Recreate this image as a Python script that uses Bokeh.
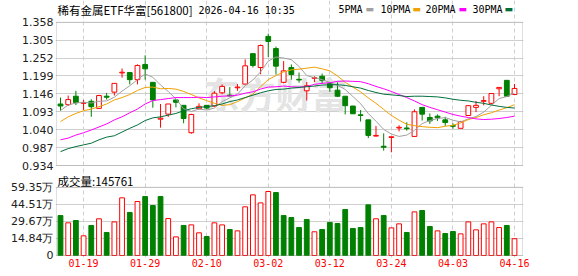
from bokeh.plotting import figure
from bokeh.models import Range1d, FixedTicker, Label, ColumnDataSource, NumeralTickFormatter, BoxAnnotation
from bokeh.layouts import column
from bokeh.embed import file_html
from bokeh.resources import INLINE

# ---------------- data ----------------
dates = ["01-14", "01-15", "01-16", "01-19", "01-20", "01-21", "01-22", "01-23", "01-26", "01-27",
         "01-28", "01-29", "01-30", "02-02", "02-03", "02-04", "02-05", "02-06", "02-09", "02-10",
         "02-11", "02-12", "02-13", "02-24", "02-25", "02-26", "02-27", "03-02", "03-03", "03-04",
         "03-05", "03-06", "03-09", "03-10", "03-11", "03-12", "03-13", "03-16", "03-17", "03-18",
         "03-19", "03-20", "03-23", "03-24", "03-25", "03-26", "03-27", "03-30", "03-31", "04-01",
         "04-02", "04-03", "04-07", "04-08", "04-09", "04-10", "04-13", "04-14", "04-15", "04-16"]

opens = [1.116, 1.114, 1.139, 1.118, 1.124, 1.103, 1.139, 1.151, 1.208, 1.209,
         1.188, 1.233, 1.180, 1.071, 1.086, 1.128, 1.112, 1.031, 1.102, 1.112,
         1.110, 1.149, 1.142, 1.164, 1.175, 1.265, 1.224, 1.316, 1.280, 1.180,
         1.224, 1.189, 1.155, 1.192, 1.198, 1.177, 1.157, 1.139, 1.110, 1.084,
         1.069, 1.021, 0.991, 1.017, 1.045, 1.045, 1.020, 1.106, 1.076, 1.080,
         1.069, 1.052, 1.044, 1.082, 1.106, 1.124, 1.118, 1.161, 1.186, 1.144]
highs = [1.135, 1.141, 1.155, 1.128, 1.130, 1.143, 1.149, 1.177, 1.221, 1.210,
         1.233, 1.260, 1.181, 1.116, 1.116, 1.129, 1.112, 1.087, 1.118, 1.113,
         1.154, 1.174, 1.166, 1.175, 1.248, 1.265, 1.292, 1.324, 1.286, 1.243,
         1.233, 1.209, 1.181, 1.198, 1.206, 1.181, 1.180, 1.139, 1.110, 1.098,
         1.069, 1.051, 1.029, 1.019, 1.053, 1.062, 1.100, 1.106, 1.088, 1.085,
         1.078, 1.059, 1.066, 1.113, 1.125, 1.139, 1.147, 1.165, 1.186, 1.175]
lows = [1.096, 1.110, 1.113, 1.098, 1.078, 1.101, 1.129, 1.141, 1.194, 1.174,
        1.174, 1.188, 1.105, 1.046, 1.078, 1.106, 1.059, 1.028, 1.100, 1.100,
        1.108, 1.145, 1.139, 1.155, 1.174, 1.224, 1.204, 1.255, 1.203, 1.177,
        1.188, 1.179, 1.126, 1.181, 1.177, 1.152, 1.137, 1.085, 1.087, 1.064,
        1.015, 1.020, 0.978, 0.973, 1.035, 1.037, 1.020, 1.067, 1.057, 1.066,
        1.051, 1.043, 1.044, 1.082, 1.092, 1.112, 1.115, 1.139, 1.137, 1.144]
closes = [1.110, 1.129, 1.120, 1.120, 1.108, 1.141, 1.136, 1.177, 1.210, 1.188,
          1.230, 1.220, 1.128, 1.074, 1.116, 1.121, 1.073, 1.085, 1.109, 1.104,
          1.148, 1.168, 1.140, 1.166, 1.229, 1.230, 1.289, 1.301, 1.228, 1.214,
          1.203, 1.187, 1.170, 1.194, 1.186, 1.164, 1.139, 1.111, 1.087, 1.082,
          1.023, 1.023, 0.988, 1.019, 1.047, 1.043, 1.093, 1.086, 1.066, 1.075,
          1.061, 1.050, 1.064, 1.111, 1.112, 1.126, 1.147, 1.165, 1.139, 1.162]

ma5 = [1.097, 1.113, 1.119, 1.121, 1.119, 1.124, 1.125, 1.136, 1.154, 1.170,
       1.188, 1.205, 1.195, 1.172, 1.153, 1.131, 1.102, 1.094, 1.101, 1.098,
       1.104, 1.123, 1.134, 1.145, 1.170, 1.187, 1.211, 1.243, 1.255, 1.252,
       1.247, 1.227, 1.200, 1.194, 1.188, 1.180, 1.171, 1.159, 1.138, 1.117,
       1.088, 1.065, 1.041, 1.027, 1.020, 1.024, 1.038, 1.058, 1.067, 1.073,
       1.076, 1.068, 1.063, 1.072, 1.079, 1.092, 1.112, 1.132, 1.138, 1.148]
ma10 = [1.064, 1.078, 1.088, 1.096, 1.101, 1.108, 1.116, 1.128, 1.135, 1.144,
        1.156, 1.165, 1.166, 1.161, 1.162, 1.160, 1.153, 1.144, 1.134, 1.126,
        1.118, 1.112, 1.114, 1.123, 1.134, 1.145, 1.167, 1.188, 1.200, 1.211,
        1.217, 1.219, 1.222, 1.225, 1.220, 1.214, 1.199, 1.180, 1.166, 1.152,
        1.134, 1.118, 1.100, 1.082, 1.068, 1.056, 1.052, 1.049, 1.047, 1.046,
        1.050, 1.053, 1.060, 1.070, 1.076, 1.084, 1.090, 1.098, 1.105, 1.114]
ma20 = [1.010, 1.015, 1.024, 1.031, 1.039, 1.048, 1.057, 1.069, 1.078, 1.090,
        1.101, 1.116, 1.126, 1.129, 1.132, 1.135, 1.135, 1.135, 1.136, 1.135,
        1.137, 1.139, 1.140, 1.142, 1.148, 1.152, 1.160, 1.166, 1.167, 1.169,
        1.167, 1.166, 1.168, 1.174, 1.177, 1.179, 1.183, 1.184, 1.183, 1.182,
        1.176, 1.168, 1.161, 1.153, 1.144, 1.135, 1.125, 1.114, 1.106, 1.099,
        1.092, 1.085, 1.080, 1.076, 1.072, 1.070, 1.071, 1.073, 1.076, 1.080]
ma30 = [0.975, 0.984, 0.990, 0.995, 1.000, 1.010, 1.018, 1.022, 1.033, 1.044,
        1.054, 1.067, 1.075, 1.078, 1.083, 1.088, 1.096, 1.102, 1.106, 1.108,
        1.111, 1.116, 1.123, 1.128, 1.135, 1.142, 1.149, 1.155, 1.159, 1.160,
        1.163, 1.165, 1.167, 1.169, 1.172, 1.173, 1.173, 1.171, 1.167, 1.163,
        1.156, 1.150, 1.145, 1.143, 1.141, 1.138, 1.139, 1.139, 1.138, 1.137,
        1.134, 1.130, 1.127, 1.125, 1.121, 1.118, 1.113, 1.109, 1.106, 1.104]

volumes = [34.7, 28.4, 30.4, 17.1, 26.1, 31.9, 20.0, 29.2, 50.1, 37.4,
           46.9, 51.2, 43.4, 51.2, 32.1, 16.2, 26.1, 26.6, 19.7, 16.5,
           28.4, 26.6, 22.6, 21.4, 42.3, 52.7, 45.7, 55.6, 54.7, 34.7,
           33.0, 24.3, 31.3, 20.6, 22.6, 28.7, 27.8, 40.0, 23.5, 24.3,
           44.0, 31.9, 34.7, 24.0, 27.5, 20.0, 37.9, 39.1, 25.2, 21.4,
           19.1, 20.8, 18.8, 29.2, 22.3, 27.5, 29.2, 24.3, 26.1, 14.58]
vol_up = [0, 1, 0, 1, 0, 1, 0, 1, 1, 0, 1, 0, 0, 0, 1, 1, 0, 1, 1, 0,
          1, 1, 0, 1, 1, 1, 1, 1, 0, 0, 0, 0, 0, 1, 0, 0, 0, 0, 0, 0,
          0, 1, 0, 1, 1, 0, 1, 0, 0, 1, 0, 0, 1, 1, 1, 1, 1, 1, 0, 1]

price_ticks = [0.934, 0.987, 1.040, 1.093, 1.146, 1.199, 1.252, 1.305, 1.358]
vol_ticks = [0, 14.84, 29.67, 44.51, 59.35]
vol_tick_labels = ["0", "14.84万", "29.67万", "44.51万", "59.35万"]
date_ticks = ["01-19", "01-29", "02-10", "03-02", "03-12", "03-24", "04-03", "04-16"]

title_name = "稀有金属ETF华富[561800]"
title_time = "2026-04-16 10:35"
legend_names = ["5PMA", "10PMA", "20PMA", "30PMA"]
vol_title = "成交量:145761"
watermark = "东方财富"

# ---------------- styling ----------------
RED = "#ff0000"
GREEN = "#008000"
MA_COLORS = ["#a0a0a0", "#f0a000", "#ff00ff", "#006f3c"]
GRID = "#cfcfcf"
FRAME = "#999999"

x = list(range(1, len(dates) + 1))
tick_x = [dates.index(d) + 1 for d in date_ticks]
up = [c >= o for o, c in zip(opens, closes)]

src = ColumnDataSource(dict(
    x=x, h=highs, l=lows,
    top=[max(o, c) for o, c in zip(opens, closes)],
    bottom=[min(o, c) for o, c in zip(opens, closes)],
    line=[RED if u else GREEN for u in up],
    fill=["white" if u else GREEN for u in up],
))
vsrc = ColumnDataSource(dict(
    x=x, v=volumes,
    line=[RED if u else GREEN for u in vol_up],
    fill=["white" if u else GREEN for u in vol_up],
))

# panel box edges (x in candle index units)
BOX_L, BOX_R = 0.48, 61.04
xr = Range1d(0.35, 61.17)
P_LO, P_HI = price_ticks[0], price_ticks[-1]
V_LO, V_HI = vol_ticks[0], vol_ticks[-1]

p1 = figure(width=578, height=172, x_range=xr, y_range=Range1d(0.91329, 1.4222),
            output_backend="svg", toolbar_location=None, x_axis_location=None,
            min_border_left=55, min_border_right=55, min_border_top=0, min_border_bottom=0)
p2 = figure(width=578, height=104, x_range=xr, y_range=Range1d(-1.74, 72.12),
            output_backend="svg", toolbar_location=None,
            min_border_left=55, min_border_right=55, min_border_top=0, min_border_bottom=19)

for p, lo, hi in ((p1, P_LO, P_HI), (p2, V_LO, V_HI)):
    p.outline_line_color = None
    p.background_fill_color = "white"
    p.border_fill_color = "white"
    p.xgrid.ticker = FixedTicker(ticks=tick_x)
    p.xgrid.grid_line_color = GRID
    p.xgrid.grid_line_dash = "4 3"
    p.xgrid.bounds = (lo, hi)
    p.ygrid.grid_line_color = GRID
    p.ygrid.bounds = (BOX_L, BOX_R)
    ax = p.yaxis[0]
    ax.axis_line_color = None
    ax.major_tick_line_color = None
    ax.minor_tick_line_color = None
    ax.major_tick_out = 0
    ax.major_tick_in = 0
    ax.major_label_standoff = 2
    ax.major_label_text_font = "DejaVu Sans"
    ax.major_label_text_font_size = "11px"
    ax.major_label_text_color = "#202020"
    p.add_layout(BoxAnnotation(left=BOX_L, right=BOX_R, bottom=lo, top=hi,
                               fill_alpha=0, line_color=FRAME, line_width=1))

p1.yaxis[0].ticker = FixedTicker(ticks=price_ticks)
p1.yaxis[0].formatter = NumeralTickFormatter(format="0.000")
p2.yaxis[0].ticker = FixedTicker(ticks=vol_ticks)
p2.yaxis[0].major_label_overrides = {t: s for t, s in zip(vol_ticks, vol_tick_labels)}

bx = p2.xaxis[0]
bx.ticker = FixedTicker(ticks=tick_x)
bx.major_label_overrides = {t: d for t, d in zip(tick_x, date_ticks)}
bx.axis_line_color = None
bx.major_tick_line_color = None
bx.minor_tick_line_color = None
bx.major_tick_out = 0
bx.major_tick_in = 0
bx.major_label_standoff = 1
bx.major_label_text_font = "DejaVu Sans Mono"
bx.major_label_text_font_size = "10px"
bx.major_label_text_color = RED

# watermark
p1.add_layout(Label(x=148, y=80, x_units="screen", y_units="screen", text=watermark,
                    text_font="Noto Sans CJK SC", text_font_size="36px", text_font_style="bold",
                    text_color="#e4e4e4", text_baseline="middle", level="underlay"))

# candles
p1.segment(x0="x", y0="l", x1="x", y1="h", line_color="line", line_width=1, source=src)
p1.vbar(x="x", width=0.62, top="top", bottom="bottom", fill_color="fill",
        line_color="line", line_width=1, source=src)

for ma, col in zip([ma5, ma10, ma20, ma30], MA_COLORS):
    p1.line(x, ma, line_color=col, line_width=1)

# volume
p2.vbar(x="x", width=0.62, top="v", bottom=0, fill_color="fill", line_color="line",
        line_width=1, source=vsrc)

# header texts (screen units from the frame's bottom-left corner)
p1.add_layout(Label(x=2, y=162.5, x_units="screen", y_units="screen", text=title_name,
                    text_font="Noto Sans CJK SC", text_font_size="11.5px", text_color="#000000",
                    text_baseline="middle"))
p1.add_layout(Label(x=143, y=162.5, x_units="screen", y_units="screen", text=title_time,
                    text_font="DejaVu Sans Mono", text_font_size="10px", text_color="#000000",
                    text_baseline="middle"))
leg_x = [283, 325, 370, 417]
sq_x = [310, 357, 403, 449]
for lx, sx, name, col in zip(leg_x, sq_x, legend_names, MA_COLORS):
    p1.add_layout(Label(x=lx, y=163.5, x_units="screen", y_units="screen", text=name,
                        text_font="DejaVu Sans Mono", text_font_size="10px", text_color="#000000",
                        text_baseline="middle"))
    p1.add_layout(Label(x=sx, y=163.5, x_units="screen", y_units="screen", text="▬",
                        text_font="DejaVu Sans", text_font_size="9px", text_color=col,
                        text_baseline="middle"))

p2.add_layout(Label(x=2, y=76.3, x_units="screen", y_units="screen", text=vol_title,
                    text_font="Noto Sans CJK SC", text_font_size="11.5px", text_color="#000000",
                    text_baseline="middle"))

layout = column(p1, p2, spacing=0)
open("out.html", "w").write(file_html(layout, INLINE))
